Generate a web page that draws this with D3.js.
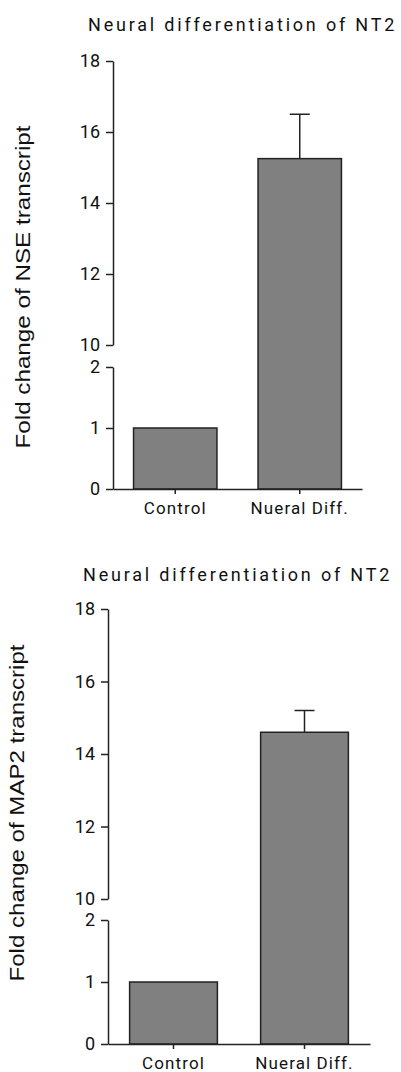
<!DOCTYPE html>
<html>
<head>
<meta charset="utf-8">
<script src="https://cdn.jsdelivr.net/npm/d3@7"></script>
<style>
  body { margin: 0; background: #fff; }
  svg { display: block; }
  .tick text { font-family: Roboto, sans-serif; fill: #111; }
  .domain, .tick line { stroke: #222; stroke-width: 1.5px; }
</style>
</head>
<body>
<svg id="chart" width="401" height="1072"></svg>
<script>
// values
var categories = ["Control", "Nueral Diff."];
var nseMeans = [1, 15.25];
var nseErrors = [0, 1.25];
var map2Means = [1, 14.6];
var map2Errors = [0, 0.6];
var upperTicks = [10, 12, 14, 16, 18];
var lowerTicks = [0, 1, 2];
var titleText = "Neural differentiation of NT2";

var svg = d3.select("#chart");

function drawChart(opt) {
  var g = svg.append("g");

  var x = d3.scaleBand()
      .domain(categories)
      .range([opt.left, opt.right])
      .paddingInner(0.33)
      .paddingOuter(0.165);

  var yLow = d3.scaleLinear().domain([0, 2]).range([opt.y0, opt.y2]);
  var yHigh = d3.scaleLinear().domain([10, 18]).range([opt.y10, opt.y18]);
  var y = function (v) { return v > 2 ? yHigh(v) : yLow(v); };

  // title
  g.append("text")
      .attr("x", opt.titleX)
      .attr("y", opt.titleY)
      .style("font-family", "Roboto, sans-serif")
      .style("font-size", "18px")
      .style("letter-spacing", opt.titleSpacing + "px")
      .style("fill", "#111")
      .text(titleText);

  // y label
  g.append("text")
      .attr("transform", "translate(" + opt.labelX + "," + opt.labelY + ") rotate(-90)")
      .attr("text-anchor", "middle")
      .attr("textLength", opt.labelLen)
      .attr("lengthAdjust", "spacingAndGlyphs")
      .style("font-family", "'Liberation Sans', Arial, sans-serif")
      .style("font-size", "20px")
      .style("fill", "#111")
      .text(opt.label);

  // bars
  g.selectAll("rect.bar")
      .data(opt.means)
    .enter().append("rect")
      .attr("class", "bar")
      .attr("x", function (d, i) { return x(categories[i]); })
      .attr("width", x.bandwidth())
      .attr("y", function (d) { return y(d); })
      .attr("height", function (d) { return opt.y0 - y(d); })
      .attr("fill", "#808080")
      .attr("stroke", "#222")
      .attr("stroke-width", 1.5);

  // error bars (upper only)
  var err = opt.means.map(function (d, i) { return { m: d, e: opt.errors[i], c: categories[i] }; })
      .filter(function (d) { return d.e > 0; });
  var eg = g.selectAll("g.err").data(err).enter().append("g").attr("class", "err");
  eg.append("line")
      .attr("x1", function (d) { return x(d.c) + x.bandwidth() / 2; })
      .attr("x2", function (d) { return x(d.c) + x.bandwidth() / 2; })
      .attr("y1", function (d) { return y(d.m); })
      .attr("y2", function (d) { return y(d.m + d.e); })
      .attr("stroke", "#222").attr("stroke-width", 1.5);
  eg.append("line")
      .attr("x1", function (d) { return x(d.c) + x.bandwidth() / 2 - 10; })
      .attr("x2", function (d) { return x(d.c) + x.bandwidth() / 2 + 10; })
      .attr("y1", function (d) { return y(d.m + d.e); })
      .attr("y2", function (d) { return y(d.m + d.e); })
      .attr("stroke", "#222").attr("stroke-width", 1.5);

  // axes
  g.append("g")
      .attr("transform", "translate(" + opt.left + ",0)")
      .call(d3.axisLeft(yHigh).tickValues(upperTicks).tickFormat(d3.format("d"))
        .tickSize(7).tickPadding(6).tickSizeOuter(0))
      .call(function (a) { a.selectAll("text").style("font-size", "18px"); });

  g.append("g")
      .attr("transform", "translate(" + opt.left + ",0)")
      .call(d3.axisLeft(yLow).tickValues(lowerTicks).tickFormat(d3.format("d"))
        .tickSize(7).tickPadding(6).tickSizeOuter(0))
      .call(function (a) { a.selectAll("text").style("font-size", "18px"); });

  g.append("g")
      .attr("transform", "translate(0," + opt.y0 + ")")
      .call(d3.axisBottom(x).tickSize(5).tickPadding(8).tickSizeOuter(0))
      .call(function (a) {
        a.selectAll("text").style("font-size", "17px").style("letter-spacing", "1.1px");
      });
}

drawChart({
  left: 113, right: 362, y18: 61, y10: 345, y2: 367, y0: 489,
  titleX: 88, titleY: 31, titleSpacing: 2.8,
  labelX: 30, labelY: 287, labelLen: 323,
  label: "Fold change of NSE transcript",
  means: nseMeans, errors: nseErrors
});

drawChart({
  left: 108, right: 370, y18: 609, y10: 899, y2: 920, y0: 1044,
  titleX: 83, titleY: 581, titleSpacing: 2.8,
  labelX: 24, labelY: 813, labelLen: 337,
  label: "Fold change of MAP2 transcript",
  means: map2Means, errors: map2Errors
});
</script>
</body>
</html>
